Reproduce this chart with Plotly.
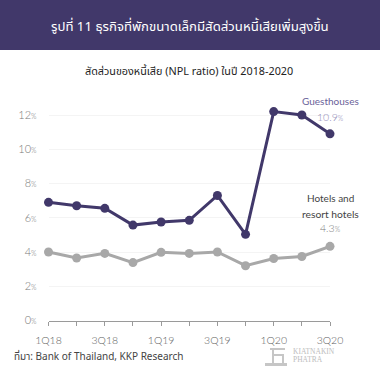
import plotly.graph_objects as go

W, H = 380, 374
quarters = ["1Q18","2Q18","3Q18","4Q18","1Q19","2Q19","3Q19","4Q19","1Q20","2Q20","3Q20"]
guesthouses = [6.9,6.7,6.55,5.57,5.75,5.85,7.3,5.03,12.2,12.0,10.9]
hotels = [4.0,3.65,3.92,3.38,3.98,3.92,4.0,3.2,3.62,3.74,4.33]
x_tick_labels = ["1Q18","3Q18","1Q19","3Q19","1Q20","3Q20"]
y_ticks = [0,2,4,6,8,10,12]

TH = "Noto Sans Thai, Kanit, Lato, Noto Sans, sans-serif"
LAT = "Lato Light, Lato, Noto Sans, sans-serif"
LAT_R = "Lato, Noto Sans, sans-serif"
PURPLE = "#41386a"
GRAY = "#a8a8a8"

pct = lambda s, size=7: f"{s}<span style='font-size:{size}px'>%</span>"

fig = go.Figure()
fig.add_trace(go.Scatter(x=quarters, y=hotels, mode="lines+markers", cliponaxis=False,
    line=dict(color=GRAY, width=3), marker=dict(color=GRAY, size=9), showlegend=False))
fig.add_trace(go.Scatter(x=quarters, y=guesthouses, mode="lines+markers", cliponaxis=False,
    line=dict(color=PURPLE, width=3), marker=dict(color=PURPLE, size=9), showlegend=False))

PX_PER_UNIT = (320.5-115)/12
Y_TOP = 13
xd = [48.5/W, 330/W]
yd = [1-320.5/H, 1-(320.5-Y_TOP*PX_PER_UNIT)/H]

def rect(x0, y0, x1, y1, color):
    return dict(type="rect", xref="paper", yref="paper", x0=x0/W, x1=x1/W, y0=1-y1/H, y1=1-y0/H,
                fillcolor=color, line=dict(width=0), layer="below")

LOGO = "#c6c6c6"
fig.update_layout(
    width=W, height=H, margin=dict(l=0,r=0,t=0,b=0),
    paper_bgcolor="white", plot_bgcolor="white", showlegend=False,
    xaxis=dict(domain=xd, automargin=False, type="category", categoryorder="array", categoryarray=quarters,
        range=[0,10], tickmode="array", tickvals=quarters, ticktext=[q if q in x_tick_labels else "" for q in quarters],
        ticks="outside", ticklen=4, tickcolor="#9a9a9a", tickwidth=1, ticklabelstandoff=6,
        showline=True, linecolor="#9a9a9a", linewidth=1, showgrid=False, zeroline=False,
        tickfont=dict(family=LAT, size=10.5, color="#5e5e5e")),
    yaxis=dict(domain=yd, automargin=False, range=[0,Y_TOP], tickmode="array", tickvals=y_ticks,
        ticktext=[pct(v) for v in y_ticks], ticks="", showline=False, zeroline=False,
        showgrid=True, gridcolor="#f4f4f4", gridwidth=1, ticklabelstandoff=11,
        tickfont=dict(family=LAT, size=11, color="#7a7a7a")),
    shapes=[
        rect(0, 0, W, 50, PURPLE),
        rect(270, 348, 285, 350, LOGO),
        rect(272, 348, 274, 363, LOGO),
        rect(272, 354, 284, 356, LOGO),
        rect(282, 354, 284, 363, LOGO),
        rect(265, 363, 287, 366, LOGO),
    ],
)

def note(text, px, py, size, color, family=LAT, xanchor="center"):
    fig.add_annotation(text=text, xref="paper", yref="paper", x=px/W, y=1-py/H, showarrow=False,
        xanchor=xanchor, yanchor="middle", font=dict(family=family, size=size, color=color))

note("รูปที่ 11 ธุรกิจที่พักขนาดเล็กมีสัดส่วนหนี้เสียเพิ่มสูงขึ้น", 190, 27, 13.2, "white", TH)
note("สัดส่วนของหนี้เสีย (NPL ratio) ในปี 2018-2020", 189, 72, 10.8, "#222222", TH)
note("Guesthouses", 330.5, 101, 10, "#6a6299", LAT_R)
note(pct("10.9", 7), 330, 117, 10.5, "#8d86b5")
note("Hotels and", 330.5, 198, 10, "#444444", LAT_R)
note("resort hotels", 330.5, 214, 10.3, "#444444", LAT_R)
note(pct("4.3", 7), 330, 228, 10.5, "#7a7a7a")
note("ที่มา: Bank of Thailand, KKP Research", 12, 357, 10, "#444444", TH, "left")
note("KIATNAKIN", 291, 351, 7.5, "#bdbdbd", "Liberation Serif", "left")
note("PHATRA", 291, 359, 7.5, "#bdbdbd", "Liberation Serif", "left")

fig.write_html("out.html", post_script="document.body.style.margin='0';", config={"displayModeBar": False})
